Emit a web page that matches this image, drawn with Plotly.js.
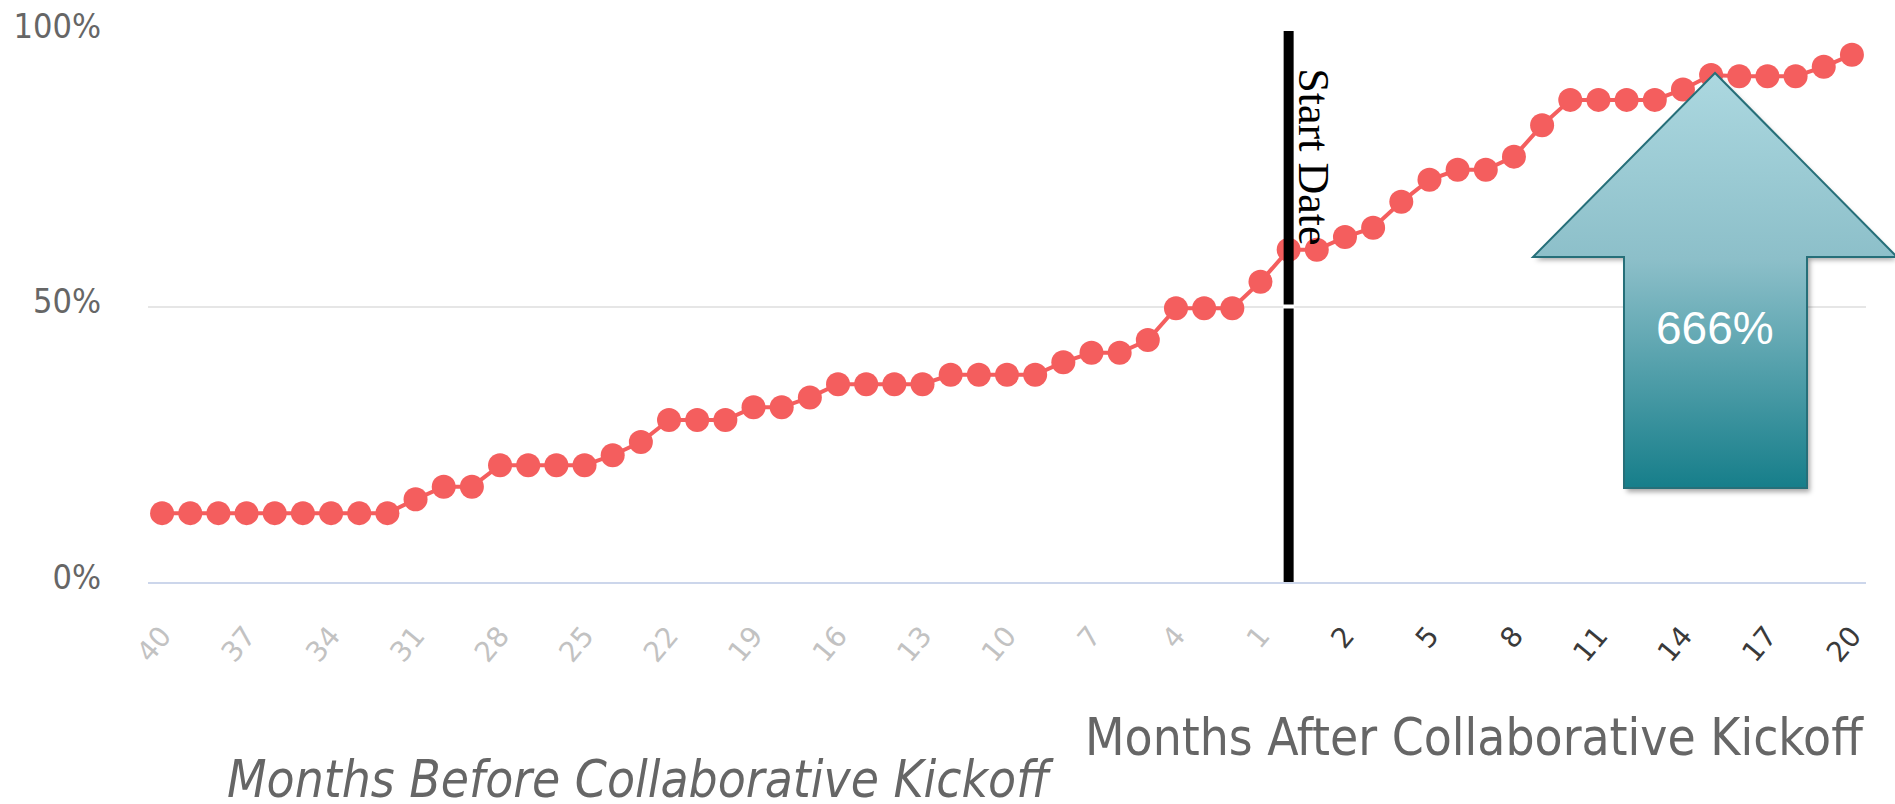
<!DOCTYPE html>
<html>
<head>
<meta charset="utf-8">
<script src="https://cdn.plot.ly/plotly-3.0.1.min.js"></script>
<style>
  html, body { margin: 0; padding: 0; background: #fff; }
  #chart { width: 1895px; height: 804px; }
</style>
</head>
<body>
<div id="chart"></div>
<script>
// Months before the collaborative kickoff (40 ... 1) and their percentages
const monthsBefore = [40,39,38,37,36,35,34,33,32,31,30,29,28,27,26,25,24,23,22,21,20,19,18,17,16,15,14,13,12,11,10,9,8,7,6,5,4,3,2,1];
const pctBefore = [12.5,12.5,12.5,12.5,12.5,12.5,12.5,12.5,12.5,15,17.3,17.3,21.2,21.2,21.2,21.2,23,25.4,29.4,29.4,29.4,31.7,31.7,33.5,35.9,35.9,35.9,35.9,37.6,37.6,37.6,37.6,39.9,41.6,41.6,43.9,49.7,49.7,49.7,54.5];

// Months after the collaborative kickoff (0 ... 20) and their percentages
const monthsAfter = [0,1,2,3,4,5,6,7,8,9,10,11,12,13,14,15,16,17,18,19,20];
const pctAfter = [60.3,60.3,62.6,64.3,69.0,73.0,74.8,74.8,77.2,82.9,87.5,87.5,87.5,87.5,89.4,92.0,91.8,91.8,91.8,93.5,95.7];

// Tick labels shown on the x axis
const tickBefore = [40,37,34,31,28,25,22,19,16,13,10,7,4,1];
const tickAfter = [2,5,8,11,14,17,20];

const yTicks = [0, 50, 100];

const startMonth = 0;
const arrowLabel = '666%';

// x positions: months before are negative offsets
const xs = monthsBefore.map(m => -m).concat(monthsAfter);
const ys = pctBefore.concat(pctAfter);

const tickvals = tickBefore.map(m => -m).concat(tickAfter);
const ticktext = tickBefore.map(m => '<span style="color:#c2c2c2">' + m + '</span>')
  .concat(tickAfter.map(m => '<span style="color:#3a3a3a">' + m + '</span>'));

const trace = {
  x: xs,
  y: ys,
  type: 'scatter',
  mode: 'lines+markers',
  line: { color: '#f45e5e', width: 4 },
  marker: { color: '#f45e5e', size: 24 },
  hoverinfo: 'x+y',
  showlegend: false
};

// Decorative up-arrow (gradient) as an SVG image
const arrowSvg =
  '<svg xmlns="http://www.w3.org/2000/svg" width="380" height="440" viewBox="0 0 380 440">' +
  '<defs>' +
  '<linearGradient id="g" x1="0" y1="0" x2="0" y2="1">' +
  '<stop offset="0" stop-color="#acd8e0"/>' +
  '<stop offset="0.45" stop-color="#8cbfc9"/>' +
  '<stop offset="1" stop-color="#167e8a"/>' +
  '</linearGradient>' +
  '<filter id="b" x="-10%" y="-10%" width="120%" height="120%"><feGaussianBlur stdDeviation="2.5"/></filter>' +
  '</defs>' +
  '<path d="M192 11 L11 195 L102 195 L102 427 L285 427 L285 195 L372 195 Z" fill="rgba(0,0,0,0.35)" filter="url(#b)"/>' +
  '<path d="M190 8 L8 192 L99 192 L99 423 L282 423 L282 192 L372 192 Z" fill="url(#g)" stroke="#266f79" stroke-width="2"/>' +
  '</svg>';
const arrowSrc = 'data:image/svg+xml;charset=utf-8,' + encodeURIComponent(arrowSvg);

const L = 148, R = 29, T = 31, B = 222, W = 1895, H = 804;
const pw = W - L - R, ph = H - T - B;
const px2x = p => (p - L) / pw;
const px2y = p => (H - B - p) / ph;

const layout = {
  width: W,
  height: H,
  margin: { l: L, r: R, t: T, b: B, pad: 0 },
  paper_bgcolor: '#ffffff',
  plot_bgcolor: '#ffffff',
  font: { family: 'DejaVu Sans Condensed, Liberation Sans Narrow, sans-serif', color: '#666666' },
  xaxis: {
    type: 'linear',
    range: [-40.5, 20.5],
    tickvals: tickvals,
    ticktext: ticktext,
    tickangle: -50,
    tickfont: { family: 'DejaVu Sans, sans-serif', size: 28 },
    ticklabelstandoff: 24,
    showgrid: false,
    zeroline: false,
    showline: true,
    linecolor: '#ccd6eb',
    linewidth: 2,
    ticks: ''
  },
  yaxis: {
    range: [0, 100],
    tickvals: yTicks,
    ticktext: yTicks.map(v => v + '%'),
    tickfont: { family: 'DejaVu Sans Condensed, Liberation Sans Narrow, sans-serif', size: 34, color: '#666666' },
    ticklabelstandoff: 46,
    ticklabelshift: -5,
    showgrid: true,
    gridcolor: '#e6e6e6',
    gridwidth: 2,
    zeroline: false,
    showline: false,
    ticks: ''
  },
  shapes: [
    {
      type: 'line',
      xref: 'x', yref: 'paper',
      x0: startMonth, x1: startMonth, y0: 0, y1: 1,
      line: { color: '#000000', width: 10 },
      layer: 'above'
    },
    {
      type: 'line',
      xref: 'x', yref: 'y',
      x0: startMonth - 0.2, x1: startMonth + 0.2, y0: 50, y1: 50,
      line: { color: '#ffffff', width: 4 },
      layer: 'above'
    }
  ],
  images: [{
    source: arrowSrc,
    xref: 'paper', yref: 'paper',
    x: px2x(1525), y: px2y(65),
    sizex: 380 / pw, sizey: 440 / ph,
    xanchor: 'left', yanchor: 'top',
    sizing: 'stretch',
    layer: 'above'
  }],
  annotations: [
    {
      text: 'Start Date',
      xref: 'x', yref: 'paper',
      x: startMonth, y: px2y(157),
      xshift: 25,
      xanchor: 'center', yanchor: 'middle',
      textangle: 90,
      showarrow: false,
      font: { family: 'Liberation Serif, serif', size: 44, color: '#000000' }
    },
    {
      text: arrowLabel,
      xref: 'paper', yref: 'paper',
      x: px2x(1715), y: px2y(328),
      xanchor: 'center', yanchor: 'middle',
      showarrow: false,
      font: { family: 'Liberation Sans, Arial, sans-serif', size: 46, color: '#ffffff' }
    },
    {
      text: 'Months After Collaborative Kickoff',
      xref: 'paper', yref: 'paper',
      x: px2x(1866), y: px2y(737),
      xanchor: 'right', yanchor: 'middle',
      showarrow: false,
      font: { family: 'DejaVu Sans Condensed, Liberation Sans Narrow, sans-serif', size: 51, color: '#666666' }
    },
    {
      text: '<i>Months Before Collaborative Kickoff</i>',
      xref: 'paper', yref: 'paper',
      x: px2x(640), y: px2y(780),
      xanchor: 'center', yanchor: 'middle',
      showarrow: false,
      font: { family: 'DejaVu Sans Condensed, Liberation Sans Narrow, sans-serif', size: 51, color: '#666666' }
    }
  ]
};

Plotly.newPlot('chart', [trace], layout, { displayModeBar: false, staticPlot: true });
</script>
</body>
</html>
